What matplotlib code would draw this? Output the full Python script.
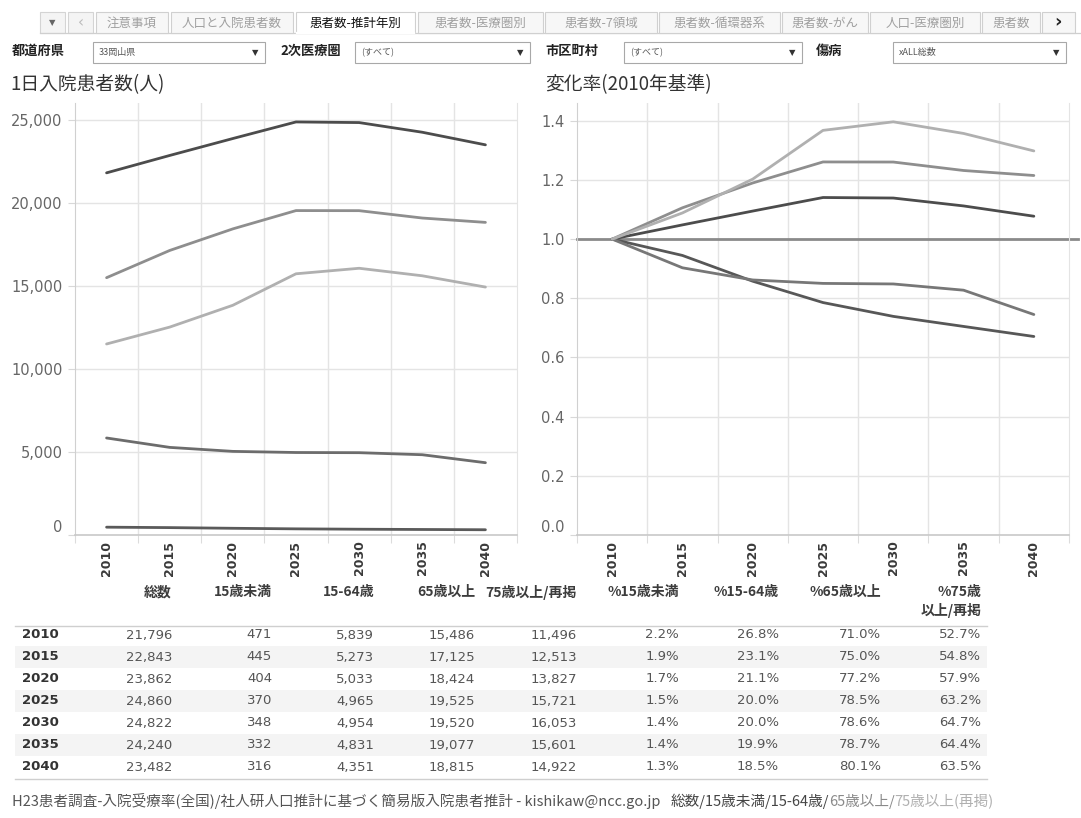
import matplotlib
matplotlib.use("Agg")
import matplotlib.pyplot as plt
from matplotlib.patches import Rectangle
import numpy as np

W, H = 1081, 818
JP = ['Noto Sans CJK JP', 'DejaVu Sans']
NUM = ['DejaVu Sans']

# ---------------- data ----------------
years = [2010, 2015, 2020, 2025, 2030, 2035, 2040]
total = [21796, 22843, 23862, 24860, 24822, 24240, 23482]
under15 = [471, 445, 404, 370, 348, 332, 316]
age15_64 = [5839, 5273, 5033, 4965, 4954, 4831, 4351]
over65 = [15486, 17125, 18424, 19525, 19520, 19077, 18815]
over75 = [11496, 12513, 13827, 15721, 16053, 15601, 14922]

count_headers = ['総数', '15歳未満', '15-64歳', '65歳以上', '75歳以上/再掲']
pct_headers = ['%15歳未満', '%15-64歳', '%65歳以上', '%75歳\n以上/再掲']

left_yticks = [0, 5000, 10000, 15000, 20000, 25000]
right_yticks = [0.0, 0.2, 0.4, 0.6, 0.8, 1.0, 1.2, 1.4]

tabs = ['注意事項', '人口と入院患者数', '患者数-推計年別', '患者数-医療圏別', '患者数-7領域',
        '患者数-循環器系', '患者数-がん', '人口-医療圏別', '患者数']
active_tab = 2
filter_labels = ['都道府県', '2次医療圏', '市区町村', '傷病']
filter_values = ['33岡山県', '(すべて)', '(すべて)', 'xALL総数']

title_left = '1日入院患者数(人)'
title_right = '変化率(2010年基準)'
footer_main = 'H23患者調査-入院受療率(全国)/社人研人口推計に基づく簡易版入院患者推計 - kishikaw@ncc.go.jp'
footer_parts = ['総数/15歳未満/15-64歳/', '65歳以上/', '75歳以上(再掲)']

# ---------------- styles / layout ----------------
series = [total, under15, age15_64, over65, over75]
colors_left = ['#4c4c4c', '#5a5a5a', '#6c6c6c', '#8e8e8e', '#b0b0b0']
colors_right = ['#4c4c4c', '#575757', '#777777', '#8e8e8e', '#b0b0b0']
tab_spans = [(96, 168), (171, 293), (296, 415), (418, 543), (545, 657),
             (659, 780), (782, 868), (870, 980), (982, 1040)]
filter_label_x = [12, 280, 545, 816]
filter_boxes = [(93, 265), (355, 530), (624, 802), (893, 1066)]

fig = plt.figure(figsize=(W / 100, H / 100), dpi=100)
fig.patch.set_facecolor('white')
bg = fig.add_axes([0, 0, 1, 1], zorder=0)
bg.set_xlim(0, W)
bg.set_ylim(H, 0)
bg.axis('off')


def ax_rect(x0, x1, y0, y1):
    return [x0 / W, 1 - y1 / H, (x1 - x0) / W, (y1 - y0) / H]


# ---------------- tab bar ----------------
bg.plot([40, W], [33, 33], color='#cfcfcf', lw=0.9)
bg.add_patch(Rectangle((40, 12), 25, 21, fc='#f4f4f4', ec='#d4d4d4', lw=0.8))
bg.text(52, 23, '▼', fontsize=6, color='#666666', ha='center', va='center', family=NUM)
bg.add_patch(Rectangle((68, 12), 25, 21, fc='#f4f4f4', ec='#d4d4d4', lw=0.8))
bg.text(80.5, 22.5, '‹', fontsize=11, color='#bbbbbb', ha='center', va='center', family=NUM)
for i, (name, (x0, x1)) in enumerate(zip(tabs, tab_spans)):
    act = (i == active_tab)
    bg.add_patch(Rectangle((x0, 12), x1 - x0, 21, fc='white' if act else '#f7f7f7',
                           ec='#d0d0d0', lw=0.8, zorder=2))
    if act:
        bg.plot([x0 + 0.6, x1 - 0.6], [33, 33], color='white', lw=1.6, zorder=3)
    bg.text((x0 + x1) / 2, 23, name, fontsize=9, family=JP,
            color='#111111' if act else '#a0a0a0', ha='center', va='center', zorder=4)
bg.add_patch(Rectangle((1042, 12), 33, 21, fc='#f7f7f7', ec='#d0d0d0', lw=0.8))
bg.text(1058, 22.5, '›', fontsize=13, color='#222222', ha='center', va='center',
        family=NUM, fontweight='bold')

# ---------------- filter row ----------------
for lab, lx, (x0, x1), val in zip(filter_labels, filter_label_x, filter_boxes, filter_values):
    bg.text(lx, 51, lab, fontsize=9.5, family=JP, fontweight='bold', color='#222222',
            ha='left', va='center')
    bg.add_patch(Rectangle((x0, 42), x1 - x0, 21, fc='white', ec='#a8a8a8', lw=0.8))
    bg.text(x0 + 6, 52.5, val, fontsize=6.5, family=JP, color='#555555', ha='left', va='center')
    bg.text(x1 - 10, 53, '▼', fontsize=6, family=NUM, color='#333333', ha='center', va='center')

# ---------------- titles ----------------
bg.text(10, 85, title_left, fontsize=13.5, family=JP, color='#333333', ha='left', va='center')
bg.text(545, 85, title_right, fontsize=13.5, family=JP, color='#333333', ha='left', va='center')

# ---------------- charts ----------------
xpos = np.arange(len(years))
GRID = '#e4e4e4'


def style_axis(ax, yticks, fmt, ylim):
    ax.set_xlim(-0.5, len(years) - 0.5)
    ax.set_ylim(*ylim)
    ax.set_facecolor('none')
    ax.set_yticks(yticks)
    ax.set_yticklabels([fmt(v) for v in yticks], family=NUM, fontsize=10.5, color='#666666')
    ax.tick_params(axis='y', length=5, color='#d8d8d8', pad=4)
    ax.set_xticks(xpos)
    ax.set_xticklabels([str(y) for y in years], rotation=90, family=NUM, fontsize=9,
                       fontweight='bold', color='#3a3a3a')
    ax.tick_params(axis='x', length=0, pad=4)
    ax.set_xticks(np.arange(len(years) + 1) - 0.5, minor=True)
    ax.tick_params(axis='x', which='minor', length=6, color='#dcdcdc', width=0.8)
    for v in yticks[1:]:
        ax.axhline(v, color=GRID, lw=1, zorder=1)
    for b in np.arange(1, len(years)) - 0.5:
        ax.axvline(b, color=GRID, lw=1, zorder=1)
    ax.spines['top'].set_visible(False)
    ax.spines['right'].set_color(GRID)
    ax.spines['left'].set_color('#d0d0d0')
    ax.spines['bottom'].set_color('#c8c8c8')
    ax.spines['bottom'].set_linewidth(1.2)
    t0 = ax.yaxis.get_major_ticks()[0]
    t0.label1.set_va('bottom')


axL = fig.add_axes(ax_rect(75, 517, 103, 535), zorder=2)
style_axis(axL, left_yticks, lambda v: f'{v:,.0f}', (0, 26000))
for vals, c in zip(series, colors_left):
    axL.plot(xpos, vals, color=c, lw=2.0, solid_capstyle='round', zorder=3)

axR = fig.add_axes(ax_rect(577, 1069, 103, 535), zorder=2)
style_axis(axR, right_yticks, lambda v: f'{v:.1f}', (0, 1.46))
axR.axhline(1.0, xmin=0, xmax=(1078 - 577) / (1069 - 577), color='#8a8a8a', lw=2.0,
            clip_on=False, zorder=2)
for vals, c in zip(series, colors_right):
    rate = np.array(vals, dtype=float) / vals[0]
    axR.plot(xpos, rate, color=c, lw=2.0, solid_capstyle='round', zorder=3)

# ---------------- table ----------------
col_right = [172, 272, 374, 475, 577, 679, 779, 881, 981]
row_y0, row_h = 635, 22
tbl_x0, tbl_x1 = 15, 987
for i in range(len(years)):
    if i % 2 == 1:
        bg.add_patch(Rectangle((tbl_x0, row_y0 + i * row_h - row_h / 2), tbl_x1 - tbl_x0, row_h,
                               fc='#f4f4f4', ec='none', zorder=0.5))
bg.plot([tbl_x0, tbl_x1], [row_y0 - 9, row_y0 - 9], color='#cfcfcf', lw=1)
bg.plot([tbl_x0, tbl_x1], [row_y0 + 6 * row_h + 12, row_y0 + 6 * row_h + 12], color='#cfcfcf', lw=1)

headers = count_headers + pct_headers
for h, xr in zip(headers, col_right):
    lines = h.split('\n')
    for k, ln in enumerate(lines):
        bg.text(xr, 592 + 18 * k, ln, fontsize=10, family=JP, fontweight='bold', color='#3c3c3c',
                ha='right', va='center')

for i, y in enumerate(years):
    yy = row_y0 + i * row_h
    bg.text(22, yy, str(y), fontsize=9.5, family=NUM, fontweight='bold', color='#333333',
            ha='left', va='center')
    counts = [total[i], under15[i], age15_64[i], over65[i], over75[i]]
    pcts = [under15[i], age15_64[i], over65[i], over75[i]]
    cells = [f'{v:,}' for v in counts] + [f'{100 * v / total[i]:.1f}%' for v in pcts]
    for txt, xr in zip(cells, col_right):
        bg.text(xr, yy, txt, fontsize=9.5, family=NUM, color='#555555', ha='right', va='center')

# ---------------- footer ----------------
fig.canvas.draw()
renderer = fig.canvas.get_renderer()
inv = bg.transData.inverted()
t = bg.text(12, 801, footer_main, fontsize=10.5, family=JP, color='#555555', ha='left', va='center')
bb = t.get_window_extent(renderer)
xcur = inv.transform((bb.x1, 0))[0] + 10
for part, c in zip(footer_parts, ['#444444', '#8a8a8a', '#b0b0b0']):
    t = bg.text(xcur, 801, part, fontsize=10.5, family=JP, color=c, ha='left', va='center')
    bb = t.get_window_extent(renderer)
    xcur = inv.transform((bb.x1, 0))[0]

fig.savefig('out.png', dpi=100, facecolor='white')
